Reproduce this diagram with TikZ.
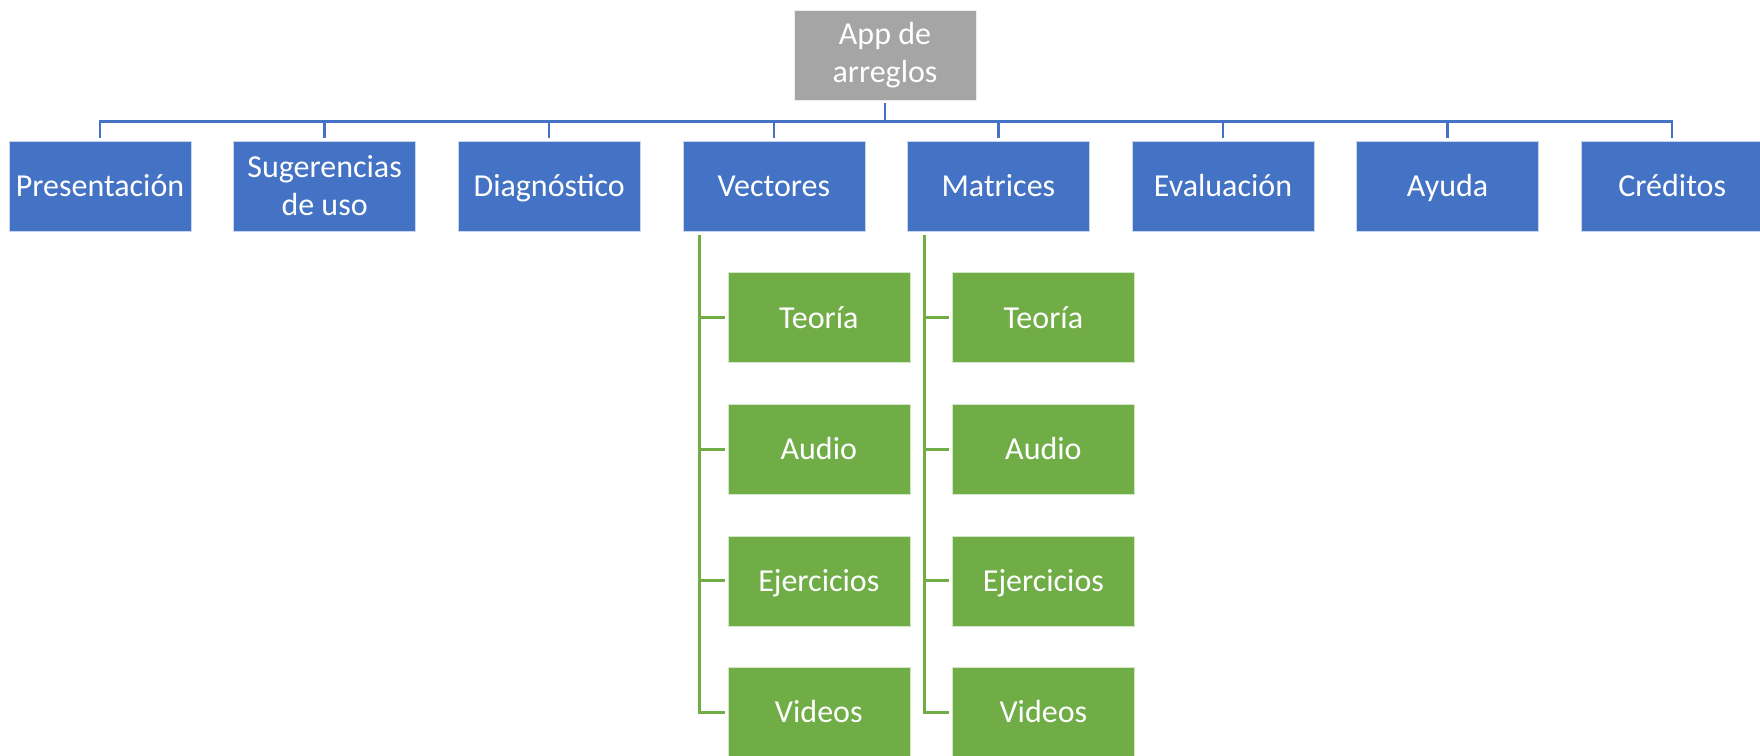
\documentclass[tikz,border=0pt]{standalone}
\usepackage{fontspec}
\setmainfont{Carlito}
\usepackage{xcolor}
\usepackage{tikz}
\usetikzlibrary{positioning}
\definecolor{boxblue}{HTML}{4472C4}
\definecolor{boxgreen}{HTML}{70AD47}
\definecolor{boxgray}{HTML}{A5A5A5}

\begin{document}
\begin{tikzpicture}[
node distance={41pt}, x=1pt, y=1pt,
rootnode/.style={rectangle, draw=white!80!boxgray, line width=0.6pt, fill=boxgray, text=white, minimum width=182pt, minimum height=90pt, inner sep=3pt, align=center},
mainnode/.style={rectangle, draw=white!70!boxblue, line width=0.6pt, fill=boxblue, text=white, minimum width=182pt, minimum height=90pt, inner sep=3pt, text height=22pt, text depth=1pt},
twolines/.style={text height=, text depth=, align=center},
leafnode/.style={rectangle, draw=white!70!boxgreen, line width=0.6pt, fill=boxgreen, text=white, minimum width=182pt, minimum height=90pt, inner sep=3pt, text height=22pt, text depth=1pt},
bline/.style={draw=boxblue, line width=2.5pt, shorten <=3pt, shorten >=3pt},
gline/.style={draw=boxgreen, line width=2.8pt, shorten <=4pt, shorten >=3pt}]
\tikzstyle{every node}=[font=\fontsize{32pt}{38pt}\selectfont]
\useasboundingbox (0,0) rectangle (1760,-755);
\node[rootnode] (root) at (885,-55) {App de\\arreglos};
\node[mainnode] (pres) at (100,-186) {Presentación};
\node[mainnode, twolines] (sug) [right=42pt of pres] {Sugerencias\\de uso};
\node[mainnode] (diag) [right=42pt of sug] {Diagnóstico};
\node[mainnode] (vec) [right=42pt of diag] {Vectores};
\node[mainnode] (mat) [right=42pt of vec] {Matrices};
\node[mainnode] (eval) [right=42pt of mat] {Evaluación};
\node[mainnode] (ayu) [right=42pt of eval] {Ayuda};
\node[mainnode] (cred) [right=42pt of ayu] {Créditos};
% hijos de Vectores
\node[leafnode] (vteo) [below right=41pt and 45pt of vec.south west] {Teoría};
\node[leafnode] (vaud) [below=of vteo] {Audio};
\node[leafnode] (veje) [below=of vaud] {Ejercicios};
\node[leafnode] (vvid) [below=of veje] {Videos};
% hijos de Matrices
\node[leafnode] (mteo) [below right=41pt and 45pt of mat.south west] {Teoría};
\node[leafnode] (maud) [below=of mteo] {Audio};
\node[leafnode] (meje) [below=of maud] {Ejercicios};
\node[leafnode] (mvid) [below=of meje] {Videos};
\draw[bline] (root.south) -- ++(0,-21) -| (pres.north);
\draw[bline] (root.south) -- ++(0,-21) -| (sug.north);
\draw[bline] (root.south) -- ++(0,-21) -| (diag.north);
\draw[bline] (root.south) -- ++(0,-21) -| (vec.north);
\draw[bline] (root.south) -- ++(0,-21) -| (mat.north);
\draw[bline] (root.south) -- ++(0,-21) -| (eval.north);
\draw[bline] (root.south) -- ++(0,-21) -| (ayu.north);
\draw[bline] (root.south) -- ++(0,-21) -| (cred.north);
\draw[gline] ([xshift=17pt]vec.south west) |- (vteo.west);
\draw[gline] ([xshift=17pt]vec.south west) |- (vaud.west);
\draw[gline] ([xshift=17pt]vec.south west) |- (veje.west);
\draw[gline] ([xshift=17pt]vec.south west) |- (vvid.west);
\draw[gline] ([xshift=17pt]mat.south west) |- (mteo.west);
\draw[gline] ([xshift=17pt]mat.south west) |- (maud.west);
\draw[gline] ([xshift=17pt]mat.south west) |- (meje.west);
\draw[gline] ([xshift=17pt]mat.south west) |- (mvid.west);
\end{tikzpicture}
\end{document}
